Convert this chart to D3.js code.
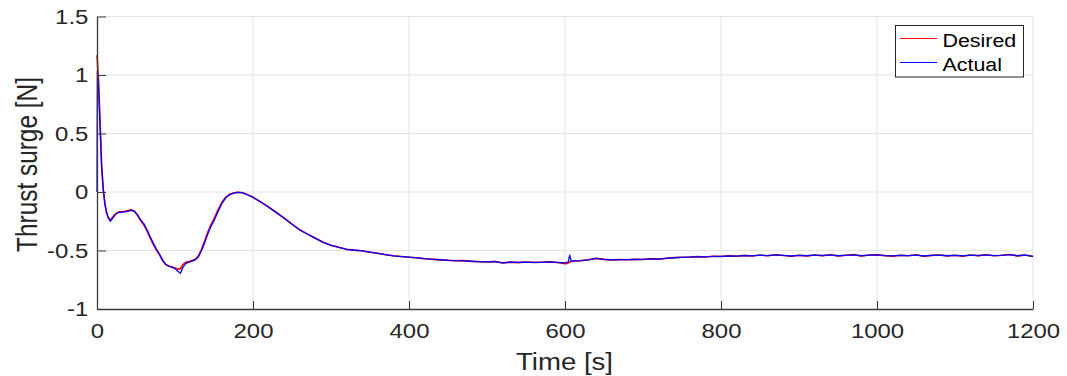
<!DOCTYPE html>
<html>
<head>
<meta charset="utf-8">
<script src="https://cdn.jsdelivr.net/npm/d3@7"></script>
<style>
  html, body { margin: 0; padding: 0; background: #fff; }
  svg { display: block; font-family: "Liberation Sans", Arial, Helvetica, sans-serif; }
</style>
</head>
<body>
<svg id="chart" width="1067" height="376"></svg>
<script>
// Sample times in seconds (shared by both series)
const time = [
  0, 0.5, 2, 4, 6, 8, 10, 12, 14, 17, 20, 24, 28, 32, 36, 40, 44, 48, 52, 56,
  60, 64, 68, 72, 76, 80, 84, 88, 92, 96, 100, 104, 107, 110, 114, 118, 122, 126, 130, 134,
  138, 142, 146, 150, 155, 160, 165, 170, 175, 180, 185, 190, 195, 200, 210, 220, 230, 240, 250, 260,
  270, 280, 290, 300, 310, 320, 330, 340, 350, 360, 370, 380, 390, 400, 410, 420, 430, 440, 450, 460,
  470, 480, 490, 500, 510, 520, 530, 540, 550, 560, 570, 580, 590, 600, 604, 606, 608, 612, 620, 630,
  640, 650, 660, 670, 680, 690, 700, 710, 720, 730, 740, 750, 760, 770, 780, 790, 800, 810, 820, 830,
  840, 850, 860, 870, 880, 890, 900, 910, 920, 930, 940, 950, 960, 970, 980, 990, 1000, 1010, 1020, 1030,
  1040, 1050, 1060, 1070, 1080, 1090, 1100, 1110, 1120, 1130, 1140, 1150, 1160, 1170, 1180, 1190, 1200
];

// Commanded surge thrust [N]
const desired = [
  1.17, 1.12, 0.95, 0.58, 0.22, 0.02, -0.10, -0.17, -0.21, -0.24, -0.215, -0.185, -0.17, -0.168, -0.165, -0.158, -0.152, -0.165, -0.20, -0.245,
  -0.28, -0.33, -0.39, -0.445, -0.495, -0.535, -0.585, -0.62, -0.635, -0.64, -0.65, -0.66, -0.655, -0.62, -0.60, -0.595, -0.585, -0.575, -0.545, -0.49,
  -0.42, -0.345, -0.28, -0.23, -0.155, -0.09, -0.045, -0.02, -0.008, -0.002, -0.004, -0.014, -0.03, -0.045, -0.085, -0.128, -0.175, -0.223, -0.275, -0.323,
  -0.36, -0.395, -0.43, -0.455, -0.473, -0.49, -0.497, -0.502, -0.515, -0.524, -0.536, -0.545, -0.551, -0.558, -0.562, -0.57, -0.574, -0.58, -0.583, -0.588,
  -0.586, -0.593, -0.596, -0.598, -0.593, -0.607, -0.599, -0.604, -0.598, -0.603, -0.6, -0.597, -0.603, -0.613, -0.608, -0.598, -0.594, -0.59, -0.587, -0.579,
  -0.567, -0.576, -0.581, -0.578, -0.579, -0.576, -0.577, -0.571, -0.574, -0.566, -0.561, -0.558, -0.556, -0.552, -0.555, -0.549, -0.551, -0.546, -0.549, -0.542,
  -0.547, -0.539, -0.545, -0.536, -0.543, -0.549, -0.541, -0.546, -0.538, -0.544, -0.537, -0.546, -0.541, -0.535, -0.547, -0.539, -0.536, -0.544, -0.548, -0.54,
  -0.545, -0.537, -0.549, -0.542, -0.538, -0.546, -0.541, -0.548, -0.539, -0.544, -0.536, -0.545, -0.54, -0.534, -0.546, -0.538, -0.552
];

// Measured surge thrust [N]
const actual = [
  0.0, 1.03, 0.90, 0.55, 0.21, 0.03, -0.09, -0.165, -0.215, -0.25, -0.225, -0.19, -0.175, -0.172, -0.17, -0.163, -0.158, -0.165, -0.195, -0.24,
  -0.27, -0.32, -0.38, -0.435, -0.485, -0.53, -0.58, -0.617, -0.633, -0.642, -0.655, -0.68, -0.695, -0.645, -0.61, -0.60, -0.59, -0.58, -0.555, -0.50,
  -0.435, -0.36, -0.295, -0.245, -0.17, -0.10, -0.05, -0.023, -0.01, -0.003, -0.005, -0.015, -0.03, -0.046, -0.086, -0.13, -0.176, -0.225, -0.276, -0.325,
  -0.361, -0.396, -0.431, -0.456, -0.474, -0.49, -0.498, -0.503, -0.514, -0.525, -0.535, -0.546, -0.552, -0.557, -0.563, -0.569, -0.575, -0.579, -0.584, -0.587,
  -0.588, -0.592, -0.595, -0.597, -0.595, -0.605, -0.6, -0.602, -0.599, -0.601, -0.601, -0.598, -0.601, -0.606, -0.6, -0.54, -0.592, -0.589, -0.586, -0.58,
  -0.568, -0.575, -0.58, -0.578, -0.578, -0.577, -0.576, -0.572, -0.573, -0.567, -0.562, -0.559, -0.556, -0.553, -0.554, -0.55, -0.55, -0.547, -0.548, -0.543,
  -0.546, -0.54, -0.544, -0.538, -0.542, -0.547, -0.542, -0.545, -0.539, -0.543, -0.538, -0.545, -0.541, -0.537, -0.545, -0.54, -0.538, -0.543, -0.546, -0.541,
  -0.544, -0.539, -0.547, -0.542, -0.539, -0.545, -0.542, -0.546, -0.54, -0.543, -0.538, -0.544, -0.541, -0.536, -0.545, -0.539, -0.55
];

const xTicks = [0, 200, 400, 600, 800, 1000, 1200];
const xTickLabels = ["0", "200", "400", "600", "800", "1000", "1200"];
const yTicks = [-1, -0.5, 0, 0.5, 1, 1.5];
const yTickLabels = ["-1", "-0.5", "0", "0.5", "1", "1.5"];
const seriesNames = ["Desired", "Actual"];
const seriesColors = ["#ff0000", "#0000ff"];

const svg = d3.select("#chart");
const plotLeft = 97, plotRight = 1033, plotTop = 16.5, plotBottom = 309;
const textColor = "#262626";
const stretch = "scale(1.14,1)";

const x = d3.scaleLinear().domain([0, 1200]).range([plotLeft, plotRight]);
const y = d3.scaleLinear().domain([-1, 1.5]).range([plotBottom, plotTop]);

// Grid
const grid = svg.append("g").attr("stroke", "#e3e3e3").attr("stroke-width", 1);
grid.selectAll("line.gx").data(xTicks.slice(1)).join("line")
  .attr("x1", d => x(d)).attr("x2", d => x(d)).attr("y1", plotTop).attr("y2", plotBottom);
grid.selectAll("line.gy").data(yTicks.slice(1)).join("line")
  .attr("x1", plotLeft).attr("x2", plotRight).attr("y1", d => y(d)).attr("y2", d => y(d));

// Series
const line = d3.line().x((d, i) => x(time[i])).y(d => y(d));
[desired, actual].forEach((vals, k) => {
  svg.append("path").datum(vals)
    .attr("fill", "none")
    .attr("stroke", seriesColors[k])
    .attr("stroke-width", k === 0 ? 1.6 : 1.3)
    .attr("stroke-linejoin", "round")
    .attr("d", line);
});

// Axes with inward ticks
const xAxis = svg.append("g").attr("transform", `translate(0,${plotBottom})`)
  .call(d3.axisBottom(x).tickValues(xTicks).tickFormat((d, i) => xTickLabels[i])
    .tickSizeInner(-8).tickSizeOuter(0).tickPadding(14));
const yAxis = svg.append("g").attr("transform", `translate(${plotLeft},0)`)
  .call(d3.axisLeft(y).tickValues(yTicks).tickFormat((d, i) => yTickLabels[i])
    .tickSizeInner(-9).tickSizeOuter(0).tickPadding(7.6));

[xAxis, yAxis].forEach(g => {
  g.select(".domain").attr("stroke", "#3a3a3a").attr("stroke-width", 1.3);
  g.selectAll(".tick line").attr("stroke", "#3a3a3a").attr("stroke-width", 1);
  g.selectAll(".tick text")
    .attr("fill", textColor)
    .attr("font-size", 21)
    .attr("font-family", "'Liberation Sans', Arial, sans-serif")
    .attr("transform", stretch);
});

// Axis titles
svg.append("text")
  .attr("transform", `translate(564.5,370) ${stretch}`)
  .attr("text-anchor", "middle")
  .attr("font-size", 24.2)
  .attr("fill", textColor)
  .text("Time [s]");

svg.append("text")
  .attr("transform", "translate(36.5,164.5) scale(1.2,1) rotate(-90)")
  .attr("text-anchor", "middle")
  .attr("font-size", 24.4)
  .attr("fill", textColor)
  .text("Thrust surge [N]");

// Legend
const legend = svg.append("g");
legend.append("rect")
  .attr("x", 895.5).attr("y", 25.5).attr("width", 128).attr("height", 51.5)
  .attr("fill", "#fff").attr("stroke", "#262626").attr("stroke-width", 1);
seriesNames.forEach((name, k) => {
  const ly = 38.5 + k * 24;
  legend.append("line")
    .attr("x1", 900).attr("x2", 937).attr("y1", ly).attr("y2", ly)
    .attr("stroke", seriesColors[k]).attr("stroke-width", 1);
  legend.append("text")
    .attr("transform", `translate(942.5,${ly + 8}) ${stretch}`)
    .attr("font-size", 18.8)
    .attr("fill", "#000")
    .text(name);
});
</script>
</body>
</html>
